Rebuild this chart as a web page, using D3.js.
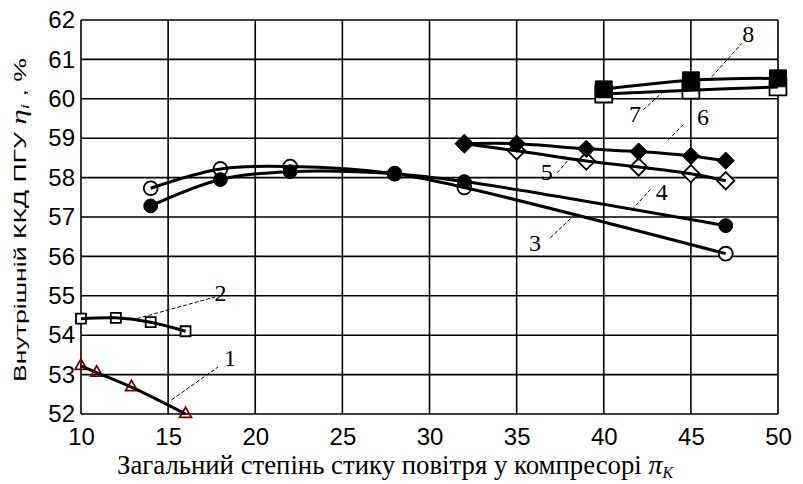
<!DOCTYPE html>
<html><head><meta charset="utf-8">
<script src="https://cdn.jsdelivr.net/npm/d3@7"></script>
<style>body{margin:0;background:#fff}svg{display:block}</style>
</head><body><svg id="c" width="803" height="484"></svg>
<script>
const xTicks = [10,15,20,25,30,35,40,45,50];
const yTicks = [52,53,54,55,56,57,58,59,60,61,62];
const s1x = [10, 10.9, 12.9, 16];      const s1y = [53.22, 53.05, 52.68, 52.0];
const s2x = [10, 12, 14, 16];          const s2y = [54.42, 54.44, 54.33, 54.1];
const s3x = [14, 18, 22, 28, 32, 47];  const s3y = [57.73, 58.22, 58.28, 58.1, 57.75, 56.07];
const s4x = [14, 18, 22, 28, 32, 47];  const s4y = [57.28, 57.95, 58.15, 58.1, 57.9, 56.78];
const s5x = [32, 35, 39, 42, 45, 47];  const s5y = [58.86, 58.68, 58.42, 58.27, 58.1, 57.92];
const s6x = [32, 35, 39, 42, 45, 47];  const s6y = [58.86, 58.86, 58.73, 58.66, 58.55, 58.43];
const s7x = [40, 45, 50];              const s7y = [60.12, 60.22, 60.3];
const s8x = [40, 45, 50];              const s8y = [60.24, 60.47, 60.52];
const labelText = ["1","2","3","4","5","6","7","8"];
// label positions in data units: [text x, text y, leader x1,y1, x2,y2]
const labelPos = [
  [18.55, 53.42, 15.2, 52.36, 17.86, 53.19],
  [18.0, 55.07, 13.2, 54.42, 17.7, 54.97],
  [36.06, 56.34, 36.93, 56.47, 38.19, 57.0],
  [43.33, 57.64, 41.61, 57.18, 42.66, 57.69],
  [36.73, 58.15, 37.32, 58.12, 38.07, 58.5],
  [45.7, 59.54, 43.69, 58.95, 44.55, 59.34],
  [41.8, 59.63, 42.26, 59.72, 43.41, 60.18],
  [48.29, 61.66, 46.2, 60.56, 47.93, 61.41]
];
const svg = d3.select("#c");
const m = {l:81, t:20, r:778, b:414};
const x = d3.scaleLinear().domain([10,50]).range([m.l, m.r]);
const y = d3.scaleLinear().domain([52,62]).range([m.b, m.t]);

// grid
const g = svg.append("g");
g.selectAll("line.v").data(xTicks).join("line").attr("class","v")
  .attr("x1", d=>x(d)).attr("x2", d=>x(d)).attr("y1", m.t).attr("y2", m.b)
  .attr("stroke","#000").attr("stroke-width",1.6);
g.selectAll("line.h").data(yTicks).join("line").attr("class","h")
  .attr("x1", m.l).attr("x2", m.r).attr("y1", d=>y(d)).attr("y2", d=>y(d))
  .attr("stroke","#000").attr("stroke-width",1.6);

// axes labels
const ax = d3.axisBottom(x).tickValues(xTicks).tickSize(0).tickPadding(14);
const xa = svg.append("g").attr("transform",`translate(0,${m.b})`).call(ax);
xa.select(".domain").remove();
xa.selectAll("text").attr("font-family","Liberation Sans, Arial").attr("font-size",24).attr("fill","#000");
const ay = d3.axisLeft(y).tickValues(yTicks).tickSize(0).tickPadding(6);
const ya = svg.append("g").attr("transform",`translate(${m.l},0)`).call(ay);
ya.select(".domain").remove();
ya.selectAll("text").attr("font-family","Liberation Sans, Arial").attr("font-size",24).attr("fill","#000");

// titles
const yt = svg.append("text").attr("transform","translate(26,220) rotate(-90)")
  .attr("text-anchor","middle").attr("font-family","Liberation Sans, Arial").attr("font-size",17).attr("fill","#000")
  .attr("textLength",324).attr("lengthAdjust","spacingAndGlyphs");
yt.append("tspan").text("Внутрішній  ККД ПГУ ");
yt.append("tspan").attr("font-family","Liberation Serif").attr("font-style","italic").attr("font-size",20).text("η");
yt.append("tspan").attr("font-family","Liberation Serif").attr("font-style","italic").attr("font-size",12).attr("dy",3).text("i");
yt.append("tspan").attr("dy",-3).text(" , %");

const xt = svg.append("text").attr("x",395).attr("y",474)
  .attr("text-anchor","middle").attr("font-family","Liberation Serif, Times New Roman").attr("font-size",27).attr("fill","#000")
  .attr("textLength",556).attr("lengthAdjust","spacingAndGlyphs");
xt.append("tspan").text("Загальний степінь стику повітря у компресорі ");
xt.append("tspan").attr("font-style","italic").attr("font-size",28).text("π");
xt.append("tspan").attr("font-style","italic").attr("font-size",16).attr("dy",4).text("K");

// series
const series = [
  {xs:s1x, ys:s1y, m:"tri", fill:"none", col:"#7a0000"},
  {xs:s2x, ys:s2y, m:"sqs", fill:"#fff", col:"#000"},
  {xs:s3x, ys:s3y, m:"circ", fill:"#fff", col:"#000"},
  {xs:s4x, ys:s4y, m:"circ", fill:"#000", col:"#000"},
  {xs:s5x, ys:s5y, m:"dia", fill:"#fff", col:"#000"},
  {xs:s6x, ys:s6y, m:"dia", fill:"#000", col:"#000"},
  {xs:s7x, ys:s7y, m:"sql", fill:"#fff", col:"#000"},
  {xs:s8x, ys:s8y, m:"sql", fill:"#000", col:"#000"}
];
const line = d3.line().x(d=>x(d[0])).y(d=>y(d[1])).curve(d3.curveCatmullRom.alpha(0.5));
const diamond = { draw(ctx, size){ const r = Math.sqrt(size/2); ctx.moveTo(0,-r); ctx.lineTo(r,0); ctx.lineTo(0,r); ctx.lineTo(-r,0); ctx.closePath(); } };
const symbols = {
  tri: d3.symbol().type(d3.symbolTriangle).size(60),
  sqs: d3.symbol().type(d3.symbolSquare).size(100),
  circ: d3.symbol().type(d3.symbolCircle).size(150),
  dia: d3.symbol().type(diamond).size(150),
  sql: d3.symbol().type(d3.symbolSquare).size(285)
};
series.forEach((s,i)=>{
  const pts = s.xs.map((v,j)=>[v, s.ys[j]]);
  if (s.fill !== "#000") {
    svg.append("g").selectAll("path").data(pts).join("path")
      .attr("d", symbols[s.m]()).attr("transform", d=>`translate(${x(d[0])},${y(d[1])})`)
      .attr("fill", s.fill).attr("stroke", s.col).attr("stroke-width",1.8);
  }
});
series.forEach((s,i)=>{
  const pts = s.xs.map((v,j)=>[v, s.ys[j]]);
  svg.append("path").datum(pts).attr("d", line).attr("fill","none")
    .attr("stroke","#000").attr("stroke-width",3);
});
series.forEach((s,i)=>{
  const pts = s.xs.map((v,j)=>[v, s.ys[j]]);
  if (s.fill === "#000") {
    svg.append("g").selectAll("path").data(pts).join("path")
      .attr("d", symbols[s.m]()).attr("transform", d=>`translate(${x(d[0])},${y(d[1])})`)
      .attr("fill", "#000").attr("stroke", "#000").attr("stroke-width",1);
  }
});

// labels
const lg = svg.append("g");
labelPos.forEach((p,i)=>{
  lg.append("line").attr("x1",x(p[2])).attr("y1",y(p[3])).attr("x2",x(p[4])).attr("y2",y(p[5]))
    .attr("stroke","#000").attr("stroke-width",1).attr("stroke-dasharray","4,2");
  lg.append("text").attr("x",x(p[0])).attr("y",y(p[1])).attr("text-anchor","middle").attr("dy","0.35em")
    .attr("font-family","Liberation Serif, Times New Roman").attr("font-size",24).attr("fill","#000")
    .text(labelText[i]);
});
</script></body></html>
